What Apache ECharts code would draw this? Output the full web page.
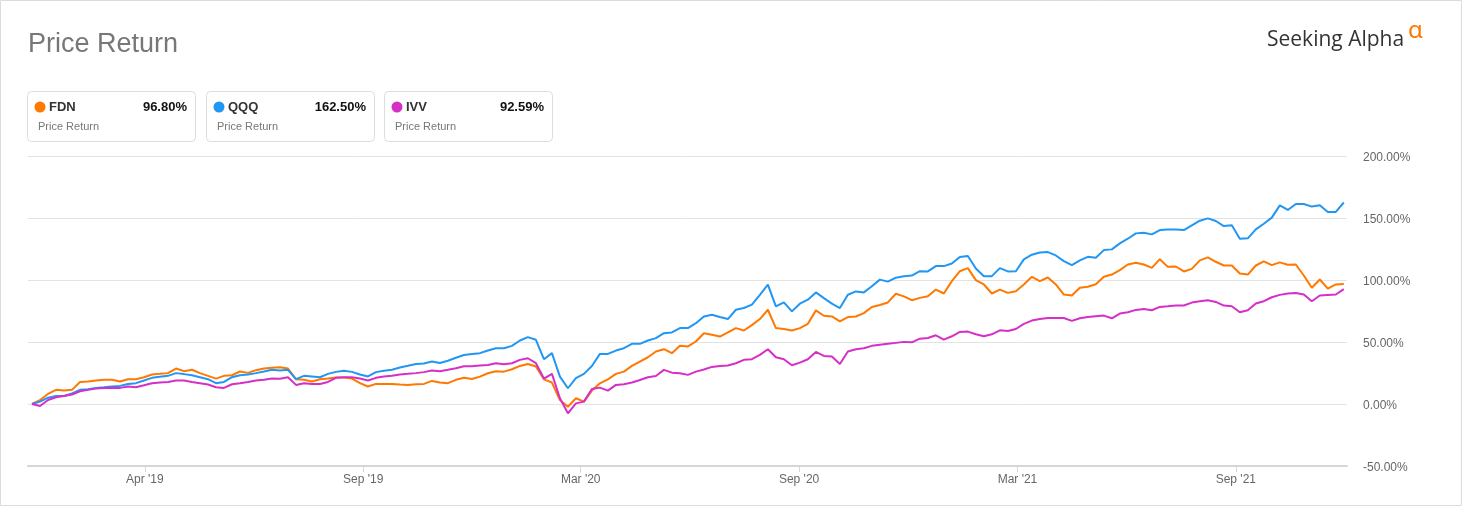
<!DOCTYPE html>
<html>
<head>
<meta charset="utf-8">
<script src="https://cdn.jsdelivr.net/npm/echarts@6/dist/echarts.min.js"></script>
<style>
html,body{margin:0;padding:0;background:#fff;}
#chart{width:1462px;height:506px;}
</style>
</head>
<body>
<div id="chart"></div>
<script>
// ---- data (percent price return, sampled along trading days) ----
const seriesNames = ["FDN", "QQQ", "IVV"];
const finalReturns = ["96.80%", "162.50%", "92.59%"];
const seriesColors = ["#ff7800", "#2196f3", "#d62fc8"];

const FDN = [
0, 3.2, 8.1, 11.4, 10.8, 11.4, 17.8, 18.1, 18.9, 19.5, 19.5, 18.1, 20.0, 20.0, 21.6, 23.8, 24.3, 24.9, 28.6, 26.5, 27.6, 24.9, 22.7, 20.5, 22.7, 23.2, 26.2, 25.1, 27.3, 28.6, 29.2, 29.7, 28.6, 20.0, 19.5, 18.1, 20.0, 20.5, 21.4, 21.4, 20.5, 16.8, 14.1, 16.2, 16.2, 16.2, 15.7, 15.4, 15.9, 16.2, 18.6, 17.3, 16.8, 19.5, 21.1,
20.2, 22.1, 24.8, 26.4, 26.1, 28.0, 30.7, 32.3, 30.2, 19.9, 17.3, 3.2, -2.2, 4.6, 1.9, 10.8, 16.7, 19.9, 24.3, 26.1, 30.7, 34.2, 37.7, 42.3, 44.2, 41.0, 46.9, 46.4, 50.4, 57.1, 55.8, 54.4, 57.7, 61.2, 59.3, 63.6, 68.5, 76.0, 61.2, 60.4, 59.3, 61.2, 64.7, 75.5, 71.2, 70.6, 66.6, 70.1, 70.6, 73.3, 78.2, 79.8, 81.9, 88.9, 86.8,
83.7, 85.6, 86.9, 92.3, 89.1, 99.1, 107.1, 109.6, 99.9, 96.4, 89.1, 92.3, 89.6, 91.0, 96.4, 102.6, 99.1, 102.0, 96.4, 88.3, 87.5, 93.7, 94.5, 96.6, 102.6, 104.4, 108.0, 112.5, 113.9, 112.5, 109.8, 116.8, 110.6, 110.9, 106.9, 109.0, 115.8, 118.2, 114.7, 111.7, 111.7, 105.3, 104.4, 111.7, 115.0, 112.0, 114.2, 112.3, 112.5, 103.6, 93.7, 100.4, 93.1, 96.4, 96.8
];
const QQQ = [
0, 1.9, 5.1, 6.5, 6.5, 8.6, 11.4, 11.9, 13.0, 13.5, 14.1, 14.6, 16.2, 16.8, 18.9, 21.1, 21.9, 22.7, 24.9, 24.1, 23.2, 21.6, 20.0, 16.8, 17.8, 21.6, 23.2, 23.8, 24.9, 26.2, 27.6, 27.0, 27.6, 20.0, 22.7, 22.2, 21.6, 24.3, 25.9, 26.8, 25.9, 23.8, 22.2, 25.7, 26.8, 27.6, 29.5, 30.8, 32.2, 32.7, 34.3, 33.0, 34.9, 37.3, 39.5,
40.4, 41.0, 43.1, 45.0, 45.0, 46.9, 51.2, 53.9, 51.8, 36.1, 41.0, 22.1, 12.7, 20.8, 24.3, 30.7, 40.4, 40.4, 43.1, 45.0, 48.5, 48.5, 51.2, 53.1, 57.1, 57.7, 61.2, 61.2, 65.2, 70.6, 72.0, 70.1, 68.5, 76.0, 77.4, 80.1, 88.1, 96.2, 78.7, 81.9, 74.7, 80.9, 84.1, 90.0, 85.4, 80.9, 77.4, 88.1, 90.8, 90.0, 94.9, 100.3, 98.7, 101.9, 103.0,
103.6, 107.1, 106.9, 111.2, 111.2, 113.3, 118.5, 119.3, 109.3, 103.1, 103.1, 109.6, 106.9, 107.1, 116.6, 120.4, 122.2, 122.5, 119.8, 115.2, 112.0, 115.8, 118.7, 117.9, 124.1, 124.7, 129.5, 133.3, 137.6, 138.1, 136.8, 140.3, 140.8, 140.8, 140.3, 144.1, 147.8, 149.7, 147.6, 143.5, 144.1, 133.3, 133.6, 140.8, 145.4, 150.3, 160.2, 156.5, 161.3, 161.3, 159.2, 160.2, 154.9, 154.9, 162.5
];
const IVV = [
0, -1.6, 3.2, 5.4, 6.5, 7.6, 10.3, 11.4, 12.4, 13.0, 13.2, 13.0, 14.1, 13.5, 15.1, 16.8, 17.3, 17.8, 18.9, 18.9, 17.8, 16.8, 15.7, 13.5, 13.0, 15.9, 16.8, 17.8, 18.9, 19.5, 20.5, 20.3, 21.6, 15.4, 16.8, 16.2, 16.2, 17.8, 21.1, 21.6, 21.6, 20.5, 18.9, 21.1, 22.2, 22.7, 23.8, 24.3, 24.9, 25.7, 27.0, 26.5, 27.6, 28.9, 30.5,
30.5, 31.0, 31.5, 32.9, 32.1, 32.9, 35.6, 36.9, 32.9, 20.5, 24.3, 4.6, -7.5, 0.5, 1.9, 12.1, 13.2, 10.8, 15.4, 15.9, 17.3, 19.4, 21.6, 22.6, 27.5, 25.3, 24.8, 23.5, 26.1, 27.8, 29.9, 30.7, 31.0, 32.9, 35.6, 36.1, 39.6, 44.2, 37.7, 36.1, 31.3, 33.4, 36.1, 42.0, 38.8, 38.3, 32.3, 42.3, 44.2, 45.0, 46.9, 47.7, 48.5, 49.3, 50.1,
49.7, 52.7, 53.2, 55.4, 51.9, 54.6, 58.1, 58.4, 56.2, 54.6, 56.2, 59.4, 58.9, 60.5, 64.6, 67.3, 68.6, 69.4, 69.4, 69.4, 67.0, 69.1, 70.2, 70.8, 71.3, 69.1, 72.9, 74.0, 75.9, 76.7, 75.6, 78.3, 78.8, 79.4, 79.4, 81.8, 82.9, 83.7, 82.3, 79.4, 78.8, 74.0, 75.6, 81.0, 82.9, 86.1, 88.0, 89.1, 89.6, 88.3, 82.9, 87.5, 88.0, 88.3, 92.59
];

// x tick labels and the sample index at which each sits
const xTickLabels = ["Apr '19", "Sep '19", "Mar '20", "Sep '20", "Mar '21", "Sep '21"];
const xTickIndex = [14.1, 41.4, 68.6, 95.9, 123.2, 150.5];
const yTicks = [-50, 0, 50, 100, 150, 200];

const allData = [FDN, QQQ, IVV];

const chart = echarts.init(document.getElementById('chart'), null, {renderer: 'canvas'});

// legend boxes
const legendGraphics = [];
const boxX = [27, 206, 384];
seriesNames.forEach((name, k) => {
  const x0 = boxX[k];
  legendGraphics.push({
    type: 'rect', shape: {x: x0 + 0.5, y: 91.5, width: 168, height: 50, r: 4},
    style: {fill: '#fff', stroke: '#dddddd', lineWidth: 1}
  });
  legendGraphics.push({
    type: 'circle', shape: {cx: x0 + 13, cy: 107, r: 5.5},
    style: {fill: seriesColors[k]}
  });
  legendGraphics.push({
    type: 'text', x: x0 + 22, y: 107,
    style: {text: name, font: 'bold 13px "Liberation Sans", Arial, sans-serif', fill: '#333', textAlign: 'left', textVerticalAlign: 'middle'}
  });
  legendGraphics.push({
    type: 'text', x: x0 + 160, y: 107,
    style: {text: finalReturns[k], font: 'bold 13px "Liberation Sans", Arial, sans-serif', fill: '#111', textAlign: 'right', textVerticalAlign: 'middle'}
  });
  legendGraphics.push({
    type: 'text', x: x0 + 11, y: 127,
    style: {text: 'Price Return', font: '11px "Liberation Sans", Arial, sans-serif', fill: '#777', textAlign: 'left', textVerticalAlign: 'middle'}
  });
});

const option = {
  animation: false,
  backgroundColor: '#fff',
  grid: {left: 28, right: 115, top: 156, bottom: 40, containLabel: false},
  xAxis: {
    type: 'value',
    min: -0.5,
    max: 164.4,
    splitLine: {show: false},
    axisLine: {show: true, onZero: false, lineStyle: {color: '#d6d6d6', width: 2}},
    axisTick: {show: true, customValues: xTickIndex, length: 6, lineStyle: {color: '#d6d6d6', width: 1}},
    axisLabel: {
      customValues: xTickIndex,
      margin: 8,
      color: '#666',
      fontSize: 12,
      fontFamily: '"Liberation Sans", Arial, sans-serif',
      formatter: function (v) {
        let best = 0;
        for (let j = 1; j < xTickIndex.length; j++) {
          if (Math.abs(xTickIndex[j] - v) < Math.abs(xTickIndex[best] - v)) best = j;
        }
        return xTickLabels[best];
      }
    }
  },
  yAxis: {
    type: 'value',
    position: 'right',
    min: yTicks[0],
    max: yTicks[yTicks.length - 1],
    interval: 50,
    axisLine: {show: false},
    axisTick: {show: false},
    splitLine: {show: true, lineStyle: {color: '#e3e3e3', width: 1}},
    axisLabel: {
      margin: 16,
      color: '#666',
      fontSize: 12,
      fontFamily: '"Liberation Sans", Arial, sans-serif',
      formatter: v => '{a|' + v.toFixed(2) + '%}',
      rich: {
        a: {
          color: '#666',
          fontSize: 12,
          fontFamily: '"Liberation Sans", Arial, sans-serif',
          padding: [4, 0, 0, 0]
        }
      }
    }
  },
  series: seriesNames.map((name, k) => ({
    name: name,
    type: 'line',
    data: allData[k].map((v, i) => [i, v]),
    showSymbol: false,
    symbol: 'none',
    lineStyle: {color: seriesColors[k], width: 2},
    itemStyle: {color: seriesColors[k]},
    z: 2 + k
  })),
  graphic: [
    {
      type: 'rect', shape: {x: 0.5, y: 0.5, width: 1461, height: 505},
      style: {fill: 'none', stroke: '#dcdcdc', lineWidth: 1}, z: 100
    },
    {
      type: 'text', x: 28, y: 45,
      style: {text: 'Price Return', font: '27px "Liberation Sans", Arial, sans-serif', fill: '#777', textAlign: 'left', textVerticalAlign: 'middle'}
    },
    {
      type: 'text', x: 1267, y: 40,
      style: {text: 'Seeking Alpha', font: '21px "Open Sans", "Noto Sans", sans-serif', fill: '#333', textAlign: 'left', textVerticalAlign: 'middle'}
    },
    {
      type: 'text', x: 1408, y: 31,
      style: {text: 'α', font: '24px "Noto Sans", "DejaVu Sans", sans-serif', fill: '#ff7800', textAlign: 'left', textVerticalAlign: 'middle'}
    }
  ].concat(legendGraphics)
};

chart.setOption(option);
</script>
</body>
</html>
